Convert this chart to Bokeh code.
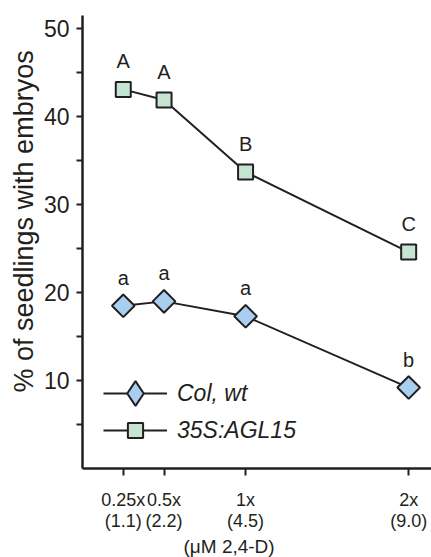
import numpy as np
from bokeh.plotting import figure
from bokeh.models import (ColumnDataSource, Range1d, FixedTicker, Legend, LegendItem, Title)
from bokeh.core.properties import value
from bokeh.embed import file_html
from bokeh.resources import INLINE

# ---- data ----
doses = [0.25, 0.5, 1.0, 2.0]
fold_labels = ["0.25x", "0.5x", "1x", "2x"]
um_labels = ["(1.1)", "(2.2)", "(4.5)", "(9.0)"]
col_wt = [18.5, 19.0, 17.3, 9.2]
agl15 = [43.1, 41.9, 33.7, 24.6]
col_letters = ["a", "a", "a", "b"]
agl_letters = ["A", "A", "B", "C"]
y_ticks = [10, 20, 30, 40, 50]
y_minor = [5, 15, 25, 35, 45]

FONT = "Liberation Sans"
INK = "#231f20"
BLUE = "#a8cef0"
GREEN = "#c5e5d2"

p = figure(width=431, height=557, output_backend="svg", toolbar_location=None,
           x_range=Range1d(0, 2.14), y_range=Range1d(0, 51.5),
           min_border_left=82, min_border_right=0, min_border_top=15, min_border_bottom=89)
p.outline_line_color = None
p.grid.visible = False
p.background_fill_color = "white"
p.border_fill_color = "white"

# y axis
ya = p.yaxis[0]
ya.ticker = FixedTicker(ticks=y_ticks, minor_ticks=y_minor)
ya.axis_line_color = INK
ya.axis_line_width = 2.5
ya.major_tick_line_color = INK
ya.minor_tick_line_color = INK
ya.major_tick_line_width = 2
ya.minor_tick_line_width = 2
ya.major_tick_in = 0
ya.major_tick_out = 6
ya.minor_tick_in = 0
ya.minor_tick_out = 6
ya.major_label_text_font = FONT
ya.major_label_text_font_size = "23px"
ya.major_label_text_color = INK
ya.major_label_standoff = 7

p.add_layout(Title(text="% of seedlings with embryos", align="left", offset=76, standoff=4,
                   text_font=FONT, text_font_size="27px", text_font_style="normal",
                   text_color=INK), "left")

# x axis
xa = p.xaxis[0]
xa.ticker = FixedTicker(ticks=doses, minor_ticks=[])
xa.major_label_overrides = {d: f"{f}\n{u}" for d, f, u in zip(doses, fold_labels, um_labels)}
xa.axis_line_color = INK
xa.axis_line_width = 2.5
xa.major_tick_line_color = INK
xa.major_tick_line_width = 2
xa.major_tick_in = 0
xa.major_tick_out = 7
xa.minor_tick_line_color = None
xa.major_label_text_font = FONT
xa.major_label_text_font_size = "18px"
xa.major_label_text_line_height = 1.05
xa.major_label_text_color = INK
xa.major_label_standoff = 14

p.add_layout(Title(text="(\u03bcM 2,4-D)", align="left", offset=101, standoff=0,
                   text_font=FONT, text_font_size="19px", text_font_style="normal",
                   text_color=INK), "below")

src_col = ColumnDataSource(dict(x=doses, y=col_wt, t=col_letters))
src_agl = ColumnDataSource(dict(x=doses, y=agl15, t=agl_letters))

l1 = p.line("x", "y", source=src_col, line_color=INK, line_width=2)
m1 = p.scatter("x", "y", source=src_col, marker="square", angle=np.pi / 4, size=16,
               fill_color=BLUE, line_color=INK, line_width=2)
l2 = p.line("x", "y", source=src_agl, line_color=INK, line_width=2)
m2 = p.scatter("x", "y", source=src_agl, marker="square", size=15,
               fill_color=GREEN, line_color=INK, line_width=2)

for src in (src_col, src_agl):
    p.text("x", "y", text="t", source=src, y_offset=-28, text_align="center",
           text_baseline="alphabetic", text_font=value(FONT), text_font_size="20px",
           text_color=INK)

# legend key glyph: hidden diamond renderer (only its look is used by the legend)
m1_key = p.scatter("x", "y", source=src_col, marker="diamond", size=16,
                   fill_color=BLUE, line_color=INK, line_width=2, visible=False)


def style_legend(lg, gh):
    lg.glyph_width = 64
    lg.glyph_height = gh
    lg.label_height = gh
    lg.spacing = 0
    lg.padding = 0
    lg.margin = 0
    lg.label_standoff = 10
    lg.border_line_color = None
    lg.background_fill_alpha = 0
    lg.inactive_fill_alpha = 0
    lg.label_text_font = FONT
    lg.label_text_font_size = "23px"
    lg.label_text_font_style = "italic"
    lg.label_text_color = INK


leg1 = Legend(items=[LegendItem(label="Col, wt", renderers=[l1, m1_key])], location=(21, 44))
style_legend(leg1, 62)
leg2 = Legend(items=[LegendItem(label="35S:AGL15", renderers=[l2, m2])], location=(21, 19))
style_legend(leg2, 38)
p.add_layout(leg1, "center")
p.add_layout(leg2, "center")

open("out.html", "w").write(file_html(p, INLINE))
